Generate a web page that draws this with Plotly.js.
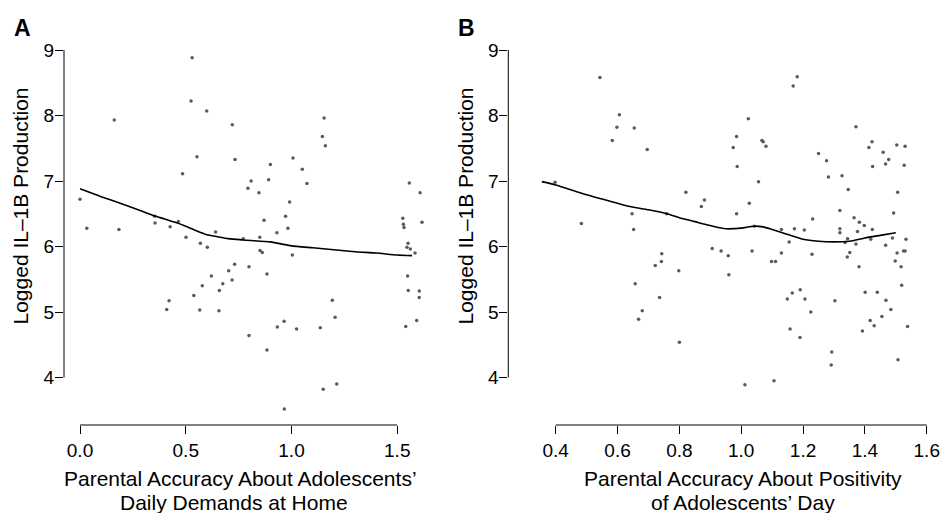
<!DOCTYPE html>
<html>
<head>
<meta charset="utf-8">
<script src="https://cdn.plot.ly/plotly-3.0.1.min.js"></script>
<style>html,body{margin:0;padding:0;background:#fff;}#chart{width:941px;height:513px;}</style>
</head>
<body>
<div id="chart"></div>
<script>
// Panel A: Parental accuracy about adolescents' daily demands at home
const aX = [0.530,0.525,0.599,0.162,0.720,1.154,1.146,1.160,0.553,0.733,1.007,0.900,1.051,0.485,1.073,0.809,0.892,0.794,0.846,0.000,
  0.991,1.557,1.608,0.972,0.870,0.983,0.931,1.526,1.529,1.532,1.617,0.032,0.184,0.353,0.355,0.426,0.465,0.501,0.641,0.772,
  0.850,0.569,0.602,0.851,0.862,1.004,1.551,1.546,1.562,1.584,0.731,0.799,0.703,0.621,0.884,0.719,0.675,0.578,0.659,0.538,
  0.421,0.410,0.566,0.657,1.549,1.552,1.604,1.604,1.592,1.540,1.193,1.206,0.933,0.965,1.024,1.136,0.799,0.884,1.150,1.214,0.966];
const aY = [8.88,8.22,8.07,7.93,7.86,7.96,7.68,7.54,7.37,7.33,7.35,7.25,7.18,7.11,6.96,7.00,7.02,6.89,6.82,6.72,
  6.68,6.97,6.82,6.46,6.40,6.28,6.21,6.43,6.34,6.29,6.37,6.28,6.26,6.46,6.36,6.30,6.38,6.14,6.22,6.12,
  6.14,6.05,5.99,5.94,5.91,5.87,6.05,5.99,5.96,5.90,5.73,5.69,5.63,5.55,5.58,5.49,5.43,5.40,5.33,5.25,
  5.17,5.04,5.03,5.02,5.55,5.33,5.32,5.22,4.87,4.78,5.18,4.92,4.77,4.86,4.74,4.76,4.64,4.42,3.82,3.90,3.52];
const aFitX = [0,0.1,0.2,0.3,0.35,0.4,0.45,0.5,0.55,0.6,0.65,0.7,0.77,0.9,0.95,1.0,1.1,1.2,1.3,1.4,1.5,1.57];
const aFitY = [6.88,6.76,6.65,6.53,6.47,6.42,6.37,6.31,6.24,6.18,6.15,6.12,6.10,6.07,6.04,6.01,5.98,5.95,5.92,5.90,5.87,5.86];

// Panel B: Parental accuracy about positivity of adolescents' day
const bX = [0.543,1.181,1.168,0.606,0.598,0.654,0.583,0.696,1.023,0.985,0.974,1.067,1.071,1.080,0.987,1.371,1.423,1.413,1.459,1.503,
  1.530,1.477,1.467,1.425,1.527,1.250,1.276,1.282,1.326,1.346,1.506,0.398,1.056,0.821,0.881,0.871,1.026,0.985,0.647,0.483,
  0.652,0.759,1.319,1.493,1.365,1.382,1.398,1.231,1.424,1.319,1.319,1.376,1.130,1.172,1.204,1.042,1.344,1.419,1.489,1.533,
  1.155,1.336,1.371,1.467,1.504,1.525,1.530,1.351,1.343,1.381,1.498,1.517,1.519,0.906,0.935,0.958,0.960,1.035,1.098,1.111,
  1.130,1.229,0.743,0.742,0.722,0.798,0.657,0.736,0.680,0.668,0.800,1.149,1.165,1.191,1.206,1.225,1.158,1.190,1.303,1.293,
  1.291,1.012,1.106,1.401,1.440,1.468,1.484,1.455,1.417,1.430,1.392,1.538,1.507];
const bY = [8.58,8.59,8.45,8.01,7.82,7.81,7.62,7.48,7.95,7.68,7.51,7.62,7.60,7.53,7.22,7.83,7.60,7.51,7.44,7.55,
  7.53,7.33,7.26,7.22,7.24,7.42,7.31,7.06,7.08,6.87,6.83,6.98,6.99,6.83,6.71,6.61,6.66,6.50,6.50,6.35,
  6.26,6.50,6.55,6.51,6.44,6.37,6.32,6.42,6.26,6.27,6.21,6.23,6.26,6.27,6.25,6.31,6.12,6.11,6.13,6.11,
  6.07,6.06,6.04,6.02,5.90,5.93,5.93,5.91,5.84,5.69,5.78,5.69,5.41,5.97,5.93,5.86,5.57,5.93,5.77,5.77,
  5.90,5.88,5.89,5.77,5.71,5.63,5.43,5.22,5.02,4.89,4.54,5.20,5.29,5.34,5.20,5.00,4.74,4.61,5.17,4.39,
  4.19,3.89,3.95,5.30,5.30,5.18,5.04,4.93,4.87,4.79,4.71,4.78,4.27];
const bFitX = [0.355,0.4,0.5,0.6,0.64,0.7,0.76,0.8,0.85,0.9,0.95,1.0,1.04,1.07,1.1,1.14,1.2,1.25,1.3,1.35,1.4,1.45,1.5];
const bFitY = [6.99,6.94,6.79,6.66,6.61,6.56,6.50,6.44,6.38,6.32,6.27,6.28,6.31,6.30,6.26,6.20,6.11,6.08,6.07,6.08,6.13,6.17,6.21];

// Tick labels
const yTicks = [4,5,6,7,8,9];
const aTicks = [0,0.5,1,1.5];
const aTickText = ['0.0','0.5','1.0','1.5'];
const bTicks = [0.4,0.6,0.8,1.0,1.2,1.4,1.6];
const bTickText = ['0.4','0.6','0.8','1.0','1.2','1.4','1.6'];

const W = 941, H = 513;
const FONT = 'Liberation Sans, Arial, Helvetica, sans-serif';
const tickFont = {family: FONT, size: 19, color: '#000'};
const titleFont = {family: FONT, size: 21, color: '#000'};
const dot = {size: 3.5, color: '#5a5a5a'};

const traces = [
  {x: aX, y: aY, type: 'scatter', mode: 'markers', marker: dot, xaxis: 'x', yaxis: 'y', cliponaxis: false, hoverinfo: 'skip'},
  {x: aFitX, y: aFitY, type: 'scatter', mode: 'lines', line: {color: '#000', width: 1.6, shape: 'spline', smoothing: 0.6}, xaxis: 'x', yaxis: 'y', hoverinfo: 'skip'},
  {x: bX, y: bY, type: 'scatter', mode: 'markers', marker: dot, xaxis: 'x2', yaxis: 'y2', cliponaxis: false, hoverinfo: 'skip'},
  {x: bFitX, y: bFitY, type: 'scatter', mode: 'lines', line: {color: '#000', width: 1.6, shape: 'spline', smoothing: 0.6}, xaxis: 'x2', yaxis: 'y2', hoverinfo: 'skip'}
];

const axBase = {showgrid: false, zeroline: false, showline: false, ticks: 'outside', ticklen: 8, tickwidth: 1, tickcolor: '#000', tickfont: tickFont, fixedrange: true};
const yDom = [(H - 425) / H, (H - 30) / H];
const yRange = [3.2748, 9.3053];

const layout = {
  width: W, height: H,
  margin: {l: 0, r: 0, t: 0, b: 0, pad: 0},
  paper_bgcolor: '#fff', plot_bgcolor: '#fff',
  showlegend: false,
  xaxis: Object.assign({}, axBase, {domain: [64 / W, 440 / W], range: [-0.0757, 1.7021], tickmode: 'array', tickvals: aTicks, ticktext: aTickText, anchor: 'y'}),
  yaxis: Object.assign({}, axBase, {domain: yDom, range: yRange, tickmode: 'array', tickvals: yTicks, anchor: 'x', ticklabelstandoff: -3}),
  xaxis2: Object.assign({}, axBase, {domain: [508.3 / W, 935 / W], range: [0.2467, 1.6267], tickmode: 'array', tickvals: bTicks, ticktext: bTickText, anchor: 'y2'}),
  yaxis2: Object.assign({}, axBase, {domain: yDom, range: yRange, tickmode: 'array', tickvals: yTicks, anchor: 'x2', ticklabelstandoff: -3}),
  shapes: [
    {type: 'line', xref: 'x', yref: 'y domain', x0: aTicks[0], x1: aTicks[aTicks.length - 1], y0: 0, y1: 0, line: {color: '#000', width: 1}},
    {type: 'line', xref: 'x domain', yref: 'y', x0: 0, x1: 0, y0: yTicks[0], y1: yTicks[yTicks.length - 1], line: {color: '#000', width: 1}},
    {type: 'line', xref: 'x2', yref: 'y2 domain', x0: bTicks[0], x1: bTicks[bTicks.length - 1], y0: 0, y1: 0, line: {color: '#000', width: 1}},
    {type: 'line', xref: 'x2 domain', yref: 'y2', x0: 0, x1: 0, y0: yTicks[0], y1: yTicks[yTicks.length - 1], line: {color: '#000', width: 1}}
  ],
  annotations: [
    {text: '<b>A</b>', x: 22 / W, y: 1 - 28 / H, xref: 'paper', yref: 'paper', xanchor: 'center', yanchor: 'middle', showarrow: false, font: {family: FONT, size: 23, color: '#000'}},
    {text: '<b>B</b>', x: 466 / W, y: 1 - 28 / H, xref: 'paper', yref: 'paper', xanchor: 'center', yanchor: 'middle', showarrow: false, font: {family: FONT, size: 23, color: '#000'}},
    {text: 'Logged IL\u20131B Production', x: 20 / W, y: 1 - 206.5 / H, xref: 'paper', yref: 'paper', xanchor: 'center', yanchor: 'middle', textangle: -90, showarrow: false, font: titleFont},
    {text: 'Logged IL\u20131B Production', x: 465 / W, y: 1 - 206.5 / H, xref: 'paper', yref: 'paper', xanchor: 'center', yanchor: 'middle', textangle: -90, showarrow: false, font: titleFont},
    {text: 'Parental Accuracy About Adolescents\u2019', x: 240 / W, y: 1 - 478 / H, xref: 'paper', yref: 'paper', xanchor: 'center', yanchor: 'middle', showarrow: false, font: titleFont},
    {text: 'Daily Demands at Home', x: 234 / W, y: 1 - 502 / H, xref: 'paper', yref: 'paper', xanchor: 'center', yanchor: 'middle', showarrow: false, font: titleFont},
    {text: 'Parental Accuracy About Positivity', x: 743 / W, y: 1 - 478 / H, xref: 'paper', yref: 'paper', xanchor: 'center', yanchor: 'middle', showarrow: false, font: titleFont},
    {text: 'of Adolescents\u2019 Day', x: 743 / W, y: 1 - 502 / H, xref: 'paper', yref: 'paper', xanchor: 'center', yanchor: 'middle', showarrow: false, font: titleFont}
  ]
};

Plotly.newPlot('chart', traces, layout, {displayModeBar: false, staticPlot: true});
</script>
</body>
</html>
